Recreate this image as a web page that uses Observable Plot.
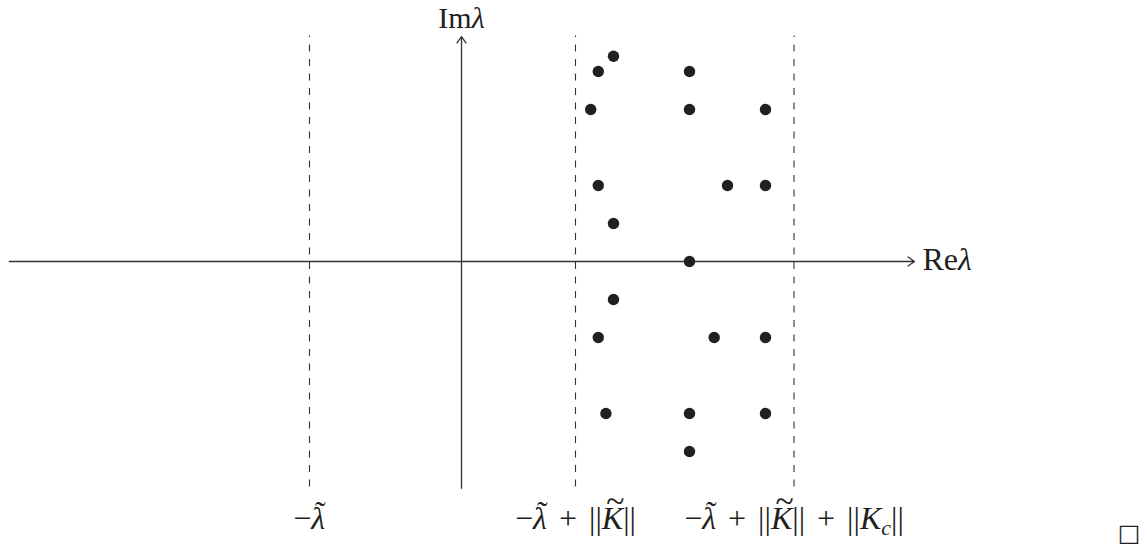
<!DOCTYPE html>
<html>
<head>
<meta charset="utf-8">
<script src="https://cdn.jsdelivr.net/npm/d3@7"></script>
<script src="https://cdn.jsdelivr.net/npm/@observablehq/plot@0.6"></script>
<style>
  html, body { margin: 0; padding: 0; background: #fff; }
  #chart svg { display: block; }
</style>
</head>
<body>
<div id="chart"></div>
<script>
// Eigenvalues in the complex plane (Re λ, Im λ)
const reLambda = [4, 3.6, 6, 3.4, 6, 8, 3.6, 7, 8, 4, 6, 4, 3.6, 6.65, 8, 3.8, 6, 8, 6];
const imLambda = [5.4, 5, 5, 4, 4, 4, 2, 2, 2, 1, 0, -1, -2, -2, -2, -4, -4, -4, -5];

// Dashed bounds on the real axis and their labels
const boundValues = [-4, 3, 8.75];
const boundLabels = ["−λ̃", "−λ̃ + ||K̃||", "−λ̃ + ||K̃|| + ||K_c||"];

// Extent of the drawn axes / dashed lines
const reAxisExtent = [-11.9, 11.92];
const imAxisExtent = [-5.97, 5.92];
const dashExtent = [-5.92, 5.95];
const axisNames = ["Reλ", "Imλ"];

const points = reLambda.map((x, i) => ({x, y: imLambda[i]}));
const bounds = boundValues.map((x, i) => ({x, label: boundLabels[i]}));
const axes = [
  {x1: reAxisExtent[0], y1: 0, x2: reAxisExtent[1], y2: 0},
  {x1: 0, y1: imAxisExtent[0], x2: 0, y2: imAxisExtent[1]}
];

const serif = "'Liberation Serif', 'Times New Roman', serif";
const ink = "#231f20";
const FS = 32;

const chart = Plot.plot({
  width: 1148,
  height: 547,
  marginTop: 0, marginRight: 0, marginBottom: 0, marginLeft: 0,
  x: {domain: [-461 / 38, 687 / 38], axis: null},
  y: {domain: [-286 / 38, 261 / 38], axis: null},
  style: {background: "#fff"},
  marks: [
    Plot.link(bounds, {
      x1: "x", x2: "x", y1: () => dashExtent[0], y2: () => dashExtent[1],
      stroke: "#333", strokeWidth: 1.1, strokeDasharray: "7,7.5"
    }),
    Plot.arrow(axes, {
      x1: "x1", y1: "y1", x2: "x2", y2: "y2",
      stroke: "#333", strokeWidth: 1.3, headLength: 9, headAngle: 70, bend: 0
    }),
    Plot.dot(points, {x: "x", y: "y", r: 5.7, fill: ink, stroke: "none"}),
    Plot.text(bounds, {
      x: "x", text: "label", frameAnchor: "bottom", lineAnchor: "bottom", dy: -19,
      fontSize: FS, fontFamily: serif, fill: ink, className: "math"
    }),
    Plot.text([axisNames[0]], {
      x: () => reAxisExtent[1], y: () => 0, text: d => d,
      textAnchor: "start", lineAnchor: "bottom", dx: 8, dy: 8,
      fontSize: FS, fontFamily: serif, fill: ink, className: "math"
    }),
    Plot.text([axisNames[1]], {
      x: () => 0, frameAnchor: "top", text: d => d,
      lineAnchor: "bottom", dy: 27,
      fontSize: 30, fontFamily: serif, fill: ink, className: "math"
    }),
    Plot.text(["□"], {
      frameAnchor: "bottom-right", text: d => d, textAnchor: "end", lineAnchor: "bottom",
      dx: -8, dy: -7, fontSize: 24, fontFamily: "'DejaVu Sans', sans-serif", fill: ink
    })
  ]
});

document.getElementById("chart").appendChild(chart);

// Typeset the math labels: italic λ, K, tildes, subscripts, wider spaces
function typeset(textEl) {
  const s = textEl.textContent;
  while (textEl.firstChild) textEl.removeChild(textEl.firstChild);
  const chars = Array.from(s);
  const ns = "http://www.w3.org/2000/svg";
  let pendDx = 0, pendDy = 0;
  const add = (str, attrs = {}) => {
    const t = document.createElementNS(ns, "tspan");
    for (const k in attrs) t.setAttribute(k, attrs[k]);
    let dx = (attrs.dx || 0) + pendDx, dy = (attrs.dy || 0) + pendDy;
    pendDx = 0; pendDy = 0;
    if (dx) t.setAttribute("dx", dx); else t.removeAttribute("dx");
    if (dy) t.setAttribute("dy", dy); else t.removeAttribute("dy");
    t.textContent = str;
    textEl.appendChild(t);
    return t;
  };
  let i = 0;
  while (i < chars.length) {
    const c = chars[i];
    if (c === "_") {
      add(chars[i + 1], {"font-style": "italic", "font-size": Math.round(FS * 0.7), dy: 6});
      pendDy = -6;
      i += 2;
      continue;
    }
    if (c === " ") {
      add(" ", {dx: 2});
      pendDx = 2;
      i++;
      continue;
    }
    const italic = c === "λ" || c === "K";
    const base = add(c, italic ? {"font-style": "italic"} : {});
    if (chars[i + 1] === "\u0303") {
      const w = base.getComputedTextLength();
      const wide = c === "K";
      const glyph = wide ? "~" : "˜";
      const tfs = wide ? FS * 1.05 : FS;
      const raise = wide ? 17 : 6;
      const skew = wide ? 0.09 * FS : 0.07 * FS;
      const tl = add(glyph, {"font-size": tfs.toFixed(1), "transform": ""});
      tl.removeAttribute("transform");
      const tw = tl.getComputedTextLength();
      const dx = -(w + tw) / 2 + skew;
      tl.setAttribute("dx", dx.toFixed(2));
      tl.setAttribute("dy", (-raise).toFixed(2));
      pendDx = (w - tw) / 2 - skew;
      pendDy = raise;
      i += 2;
      continue;
    }
    i++;
  }
}
d3.select(chart).selectAll(".math text").each(function () { typeset(this); });
</script>
</body>
</html>
